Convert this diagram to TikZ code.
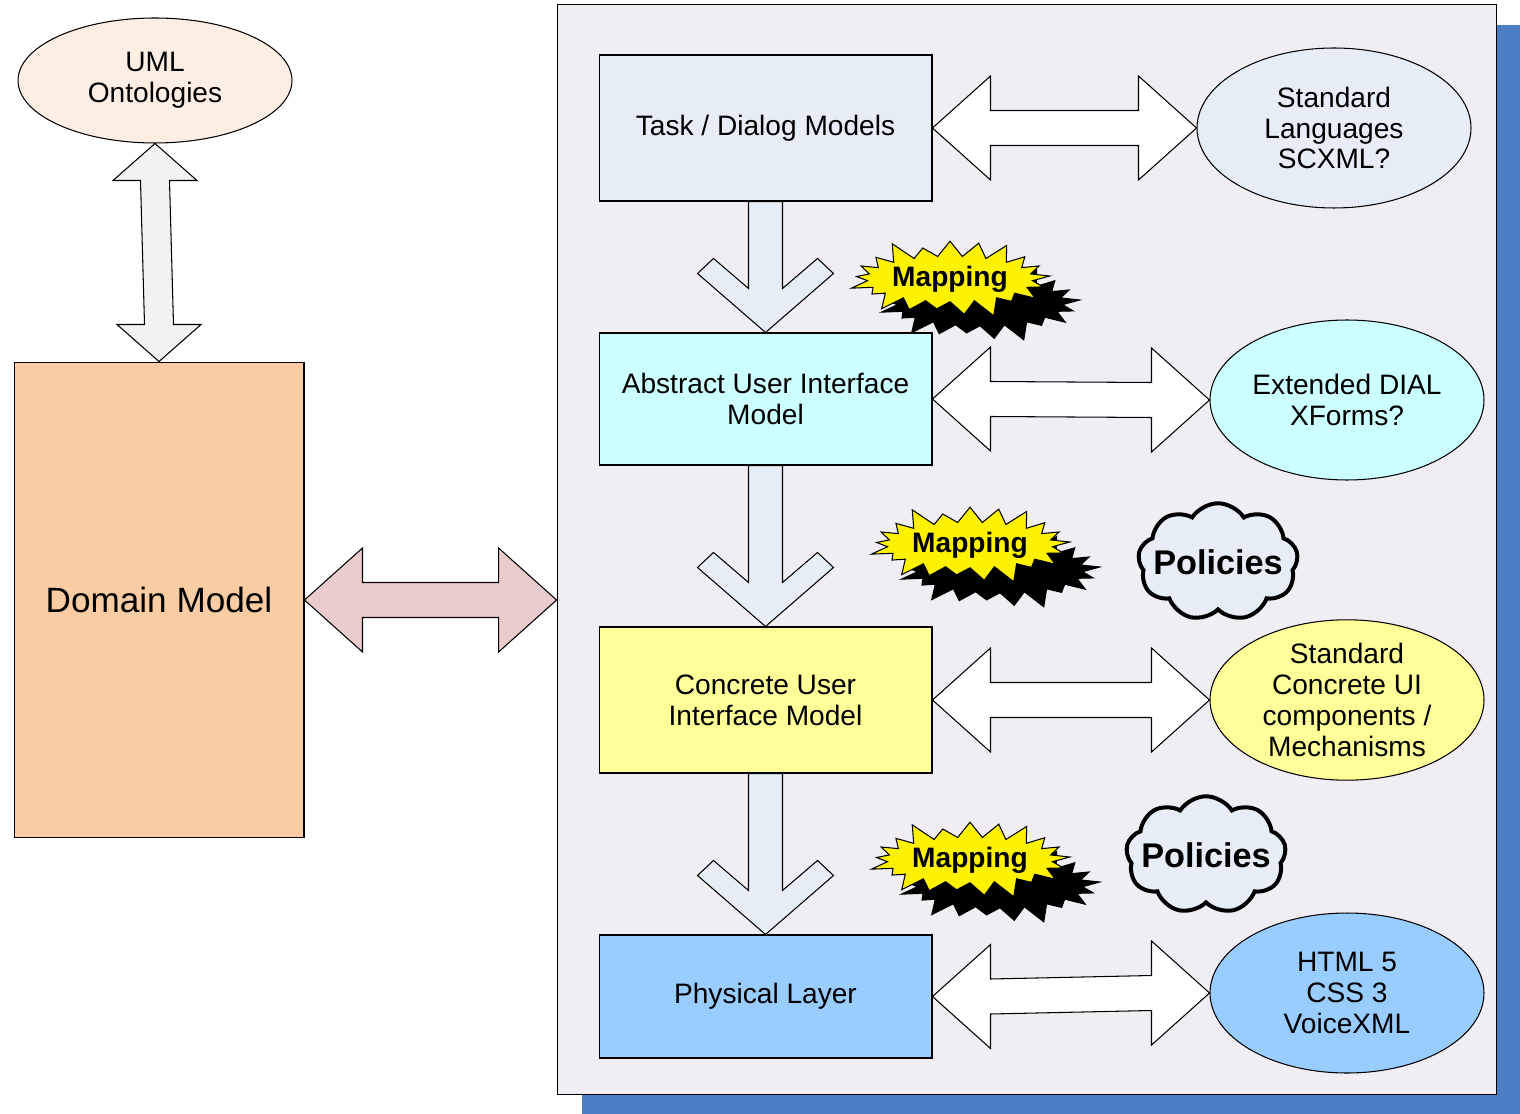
\documentclass[tikz,border=0pt]{standalone}
\usepackage{fontspec}
\setmainfont{Liberation Sans}
\usepackage{tikz}
\usetikzlibrary{shapes,shapes.symbols,calc,shadows}

% block arrow with a head at both ends, left to right
\newcommand{\hdarrow}[3]{%
  \draw[fill=#3] (#1) -- ($(#1)+(58,-52)$) -- ($(#1)+(58,-17.5)$) -- ($(#2)+(-58,-17.5)$) -- ($(#2)+(-58,-52)$) -- (#2)
    -- ($(#2)+(-58,52)$) -- ($(#2)+(-58,17.5)$) -- ($(#1)+(58,17.5)$) -- ($(#1)+(58,52)$) -- cycle;}
% block arrow with a head at both ends, top to bottom
\newcommand{\vdarrow}[3]{%
  \draw[fill=#3] (#1) -- ($(#1)+(42,37)$) -- ($(#1)+(14.5,37)$) -- ($(#2)+(14.5,-37)$) -- ($(#2)+(42,-37)$) -- (#2)
    -- ($(#2)+(-42,-37)$) -- ($(#2)+(-14.5,-37)$) -- ($(#1)+(-14.5,37)$) -- ($(#1)+(-42,37)$) -- cycle;}
% mapping arrow between two layers
\newcommand{\mapdown}[2]{%
  \draw[fill=taskFill] ($(#1)+(-17,0)$) -- ($(#2)+(-17,-44)$) -- ($(#2)+(-52,-74)$) -- ($(#2)+(-68,-59)$) -- (#2)
    -- ($(#2)+(68,-59)$) -- ($(#2)+(52,-74)$) -- ($(#2)+(17,-44)$) -- ($(#1)+(17,0)$) -- cycle;}

\begin{document}
\begin{tikzpicture}[x=0.02cm,y=-0.02cm,line width=0.6pt,
  every node/.style={font=\fontsize{16}{17.6}\selectfont, align=center, inner sep=0pt},
  modelbox/.style={draw, rectangle, minimum width=6.66cm},
  langell/.style={draw, ellipse, minimum width=5.48cm, minimum height=3.2cm},
  mapstar/.style={starburst, starburst points=21, starburst point height=0.42cm, draw,
    minimum width=4.15cm, minimum height=1.75cm, font=\fontsize{16}{18}\selectfont\bfseries},
  policy/.style={cloud, cloud puffs=9, cloud puff arc=115, draw, line width=0.08cm, fill=taskFill,
    minimum width=3.2cm, minimum height=2.35cm, font=\fontsize{19.5}{22}\selectfont\bfseries}]
\definecolor{panelFill}{RGB}{240,238,243}
\definecolor{shadowBlue}{RGB}{74,126,197}
\definecolor{taskFill}{RGB}{231,237,247}
\definecolor{absFill}{RGB}{204,255,255}
\definecolor{concFill}{RGB}{255,255,153}
\definecolor{physFill}{RGB}{153,204,255}
\definecolor{domFill}{RGB}{250,204,164}
\definecolor{umlFill}{RGB}{253,238,228}
\definecolor{linkFill}{RGB}{242,242,242}
\definecolor{domLinkFill}{RGB}{234,204,204}
\useasboundingbox[fill=white] (0,0) rectangle (1520,1114);

% domain side
\node[draw, ellipse, fill=umlFill, minimum width=5.48cm, minimum height=2.5cm] (uml) at (155,80.5)
  {\raisebox{-2pt}{\begin{tabular}{@{}c@{}}UML\\Ontologies\end{tabular}}};
\node[draw, rectangle, fill=domFill, minimum width=5.8cm, minimum height=9.52cm,
  font=\fontsize{20}{22}\selectfont] (dom) at (159,600) {Domain Model};
\vdarrow{uml.south}{dom.north}{linkFill}

% model panel
\node[draw, rectangle, fill=panelFill, minimum width=18.8cm, minimum height=21.82cm,
  drop shadow={shadow xshift=0.5cm, shadow yshift=-0.42cm, fill=shadowBlue, opacity=1}] (panel) at (1027,549.5) {};
\coordinate (panelIn) at (panel.west |- dom.east);
\hdarrow{dom.east}{panelIn}{domLinkFill}

\node[modelbox, fill=taskFill, minimum height=2.92cm] (task) at (765.5,128) {Task / Dialog Models};
\node[modelbox, fill=absFill, minimum height=2.64cm] (abs) at (765.5,399) {Abstract User Interface\\Model};
\node[modelbox, fill=concFill, minimum height=2.92cm] (conc) at (765.5,700) {Concrete User\\Interface Model};
\node[modelbox, fill=physFill, minimum height=2.46cm] (phys) at (765.5,996.5) {Physical Layer};

\node[langell, fill=taskFill] (lang1) at (1334,128) {Standard\\Languages\\SCXML?};
\node[langell, fill=absFill] (lang2) at (1347,400) {Extended DIAL\\XForms?};
\node[langell, fill=concFill] (lang3) at (1347,700) {Standard\\Concrete UI\\components /\\Mechanisms};
\node[langell, fill=physFill] (lang4) at (1347,993) {HTML 5\\CSS 3\\VoiceXML};

\hdarrow{task.east}{lang1.west}{white}
\hdarrow{abs.east}{lang2.west}{white}
\hdarrow{conc.east}{lang3.west}{white}
\hdarrow{phys.east}{lang4.west}{white}

\mapdown{task.south}{abs.north}
\mapdown{abs.south}{conc.north}
\mapdown{conc.south}{phys.north}

% mapping stars
\node[mapstar, fill=black] (map1s) at (980,303) {};
\node[mapstar, fill=yellow] (map1) at (950,279) {\makebox[0pt]{Mapping}};
\node[mapstar, fill=black] (map2s) at (1000,570) {};
\node[mapstar, fill=yellow] (map2) at (970,545) {\makebox[0pt]{Mapping}};
\node[mapstar, fill=black] (map3s) at (1000,885) {};
\node[mapstar, fill=yellow] (map3) at (970,860) {\makebox[0pt]{Mapping}};

% policies
\node[policy] (pol1) at (1218,562) {\makebox[0pt]{Policies}};
\node[policy] (pol2) at (1206,855) {\makebox[0pt]{Policies}};
\end{tikzpicture}
\end{document}
